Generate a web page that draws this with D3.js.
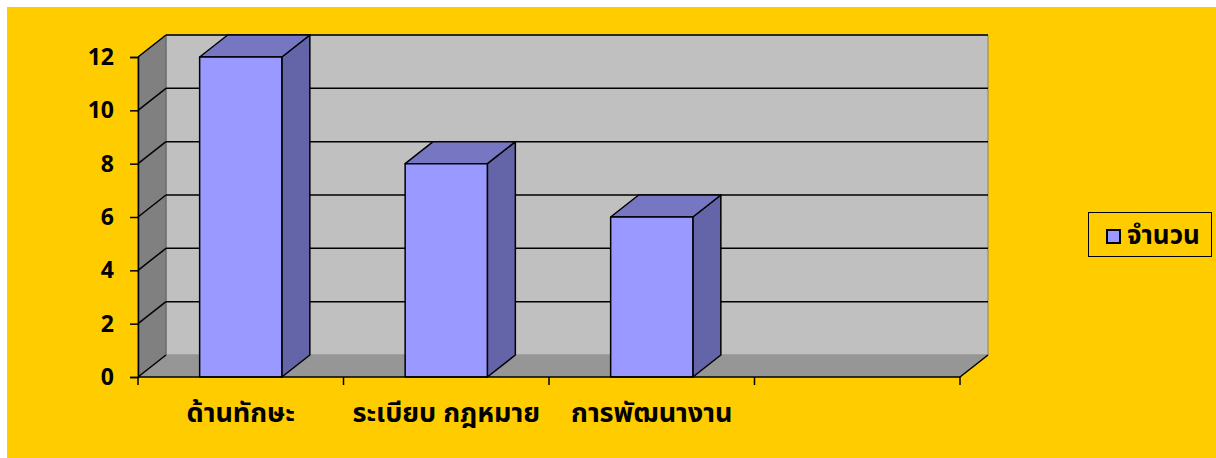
<!DOCTYPE html>
<html><head><meta charset="utf-8">
<script src="https://cdn.jsdelivr.net/npm/d3@7"></script>
<style>body{margin:0;background:#fff}svg{display:block}</style>
</head><body>
<svg id="c" width="1216" height="458"></svg>
<script>
const categories = ["ด้านทักษะ", "ระเบียบ กฎหมาย", "การพัฒนางาน", ""];
const values = [12, 8, 6, null];
const yTicks = [0, 2, 4, 6, 8, 10, 12];
const seriesName = "จำนวน";

const font = "Tahoma, 'Noto Sans Thai', 'Noto Sans', 'DejaVu Sans', sans-serif";
const numFont = "'Open Sans', Lato, sans-serif";
const svg = d3.select("#c");
const dx = 28, dy = -22;

svg.append("rect").attr("x", 7).attr("y", 7).attr("width", 1209).attr("height", 451).attr("fill", "#FFCC00");

const x = d3.scaleBand().domain(d3.range(categories.length)).range([138, 960]).padding(0);
const y = d3.scaleLinear().domain([0, 12]).range([377, 57]);
const x0 = x.range()[0], x1 = x.range()[1];
const pts = p => p.map(d => d.join(",")).join(" ");

// back wall
svg.append("polygon").attr("points", pts([[x0+dx, y(12)+dy],[x1+dx, y(12)+dy],[x1+dx, y(0)+dy],[x0+dx, y(0)+dy]]))
  .attr("fill", "#C0C0C0").attr("stroke", "#808080").attr("stroke-width", 1);
// side wall
svg.append("polygon").attr("points", pts([[x0, y(12)],[x0+dx, y(12)+dy],[x0+dx, y(0)+dy],[x0, y(0)]]))
  .attr("fill", "#808080").attr("stroke", "#606060").attr("stroke-width", 1);
// floor
svg.append("polygon").attr("points", pts([[x0, y(0)],[x0+dx, y(0)+dy],[x1+dx, y(0)+dy],[x1, y(0)]]))
  .attr("fill", "#969696").attr("stroke", "none");
svg.append("line").attr("x1", x1).attr("y1", y(0)).attr("x2", x1+dx).attr("y2", y(0)+dy).attr("stroke", "#000").attr("stroke-width", 1.5);

// gridlines
yTicks.forEach(v => {
  if (v > 0) svg.append("line").attr("x1", x0+dx).attr("x2", x1+dx).attr("y1", y(v)+dy).attr("y2", y(v)+dy)
    .attr("stroke", "#000").attr("stroke-width", 1.5);
  svg.append("line").attr("x1", x0).attr("x2", x0+dx).attr("y1", y(v)).attr("y2", y(v)+dy)
    .attr("stroke", "#000").attr("stroke-width", 1.5);
});

// bars
const bw = x.bandwidth() * 0.4;
values.forEach((v, i) => {
  if (v == null) return;
  const bx0 = x(i) + (x.bandwidth() - bw) / 2, bx1 = bx0 + bw;
  const g = svg.append("g").attr("stroke", "#000").attr("stroke-width", 1.5).attr("stroke-linejoin", "round");
  g.append("polygon").attr("points", pts([[bx1, y(v)],[bx1+dx, y(v)+dy],[bx1+dx, y(0)+dy],[bx1, y(0)]])).attr("fill", "#6464A8");
  g.append("polygon").attr("points", pts([[bx0, y(v)],[bx0+dx, y(v)+dy],[bx1+dx, y(v)+dy],[bx1, y(v)]])).attr("fill", "#7676C2");
  g.append("rect").attr("x", bx0).attr("y", y(v)).attr("width", bw).attr("height", y(0)-y(v)).attr("fill", "#9999FF");
});

// y axis
const ya = svg.append("g").attr("transform", `translate(${x0},0)`)
  .call(d3.axisLeft(y).tickValues(yTicks).tickSize(8).tickPadding(16).tickFormat(d3.format("d")));
ya.select(".domain").attr("stroke", "#000").attr("stroke-width", 1.5);
ya.selectAll(".tick line").attr("stroke", "#000").attr("stroke-width", 1.5);
ya.selectAll(".tick text").attr("font-family", numFont).attr("font-weight", "bold").attr("font-size", 23).attr("fill", "#000");

// x axis
const xa = svg.append("g").attr("transform", `translate(0,${y(0)})`);
xa.append("line").attr("x1", x0).attr("x2", x1).attr("stroke", "#000").attr("stroke-width", 1.5);
d3.range(categories.length + 1).forEach(i => {
  const xx = i < categories.length ? x(i) : x1;
  xa.append("line").attr("x1", xx).attr("x2", xx).attr("y1", 0).attr("y2", 8).attr("stroke", "#000").attr("stroke-width", 1.5);
});
categories.forEach((c, i) => {
  xa.append("text").attr("x", x(i) + x.bandwidth()/2).attr("y", 45).attr("text-anchor", "middle")
    .attr("font-family", font).attr("font-weight", "bold").attr("font-size", 27).attr("fill", "#000").text(c);
});

// legend
const lg = svg.append("g");
lg.append("rect").attr("x", 1088.5).attr("y", 212.5).attr("width", 123).attr("height", 44).attr("fill", "none").attr("stroke", "#000").attr("stroke-width", 1);
lg.append("rect").attr("x", 1107).attr("y", 230).attr("width", 13).attr("height", 13).attr("fill", "#9999FF").attr("stroke", "#000").attr("stroke-width", 2);
lg.append("text").attr("x", 1127).attr("y", 244).attr("font-family", font).attr("font-weight", "bold").attr("font-size", 26).attr("fill", "#000").text(seriesName);
</script>
</body></html>
